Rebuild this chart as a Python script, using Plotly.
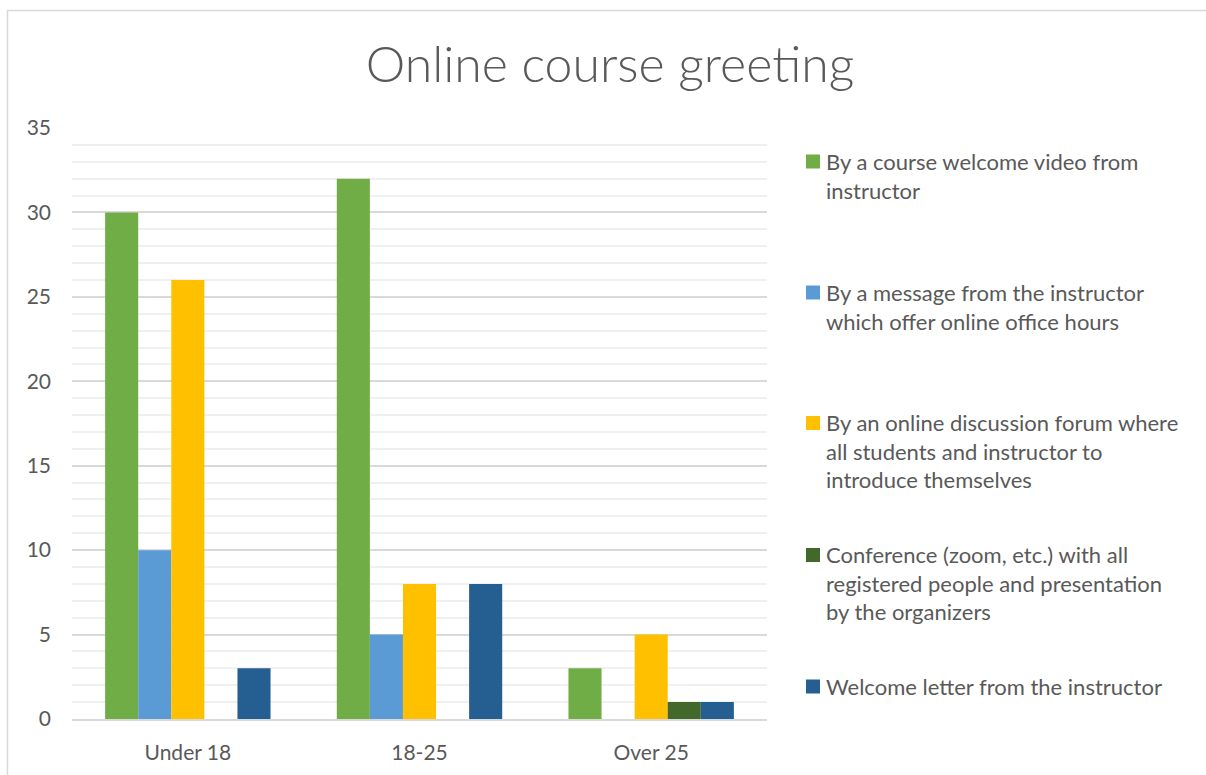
import plotly.graph_objects as go

# Survey answers: how students prefer to be greeted in an online course
categories = ["Under 18", "18-25", "Over 25"]

series_names = [
    "By a course welcome video from instructor",
    "By a message from the instructor which offer online office hours",
    "By an online discussion forum where all students and instructor to introduce themselves",
    "Conference (zoom, etc.) with all registered people and presentation by the organizers",
    "Welcome letter from the instructor",
]
legend_lines = [
    ["By a course welcome video from", "instructor"],
    ["By a message from the instructor", "which offer online office hours"],
    ["By an online discussion forum where", "all students and instructor to", "introduce themselves"],
    ["Conference (zoom, etc.) with all", "registered people and presentation", "by the organizers"],
    ["Welcome letter from the instructor"],
]

welcome_video = [30, 32, 3]
instructor_message = [10, 5, 0]
discussion_forum = [26, 8, 5]
conference = [0, 0, 1]
welcome_letter = [3, 8, 1]

series_values = [welcome_video, instructor_message, discussion_forum, conference, welcome_letter]
colors = ["#70AD47", "#5B9BD5", "#FFC000", "#43682B", "#255E91"]

y_ticks = [0, 5, 10, 15, 20, 25, 30, 35]

W, H = 1206, 775
L, R, T, B = 72, 767, 128, 719  # plot area in pixels
FONT = "Lato, Liberation Sans, sans-serif"
TEXT = "#595959"


def px_x(px):
    return (px - L) / (R - L)


def px_y(py):
    return (B - py) / (B - T)


fig = go.Figure()
for name, vals, col in zip(series_names, series_values, colors):
    fig.add_trace(go.Bar(
        name=name, x=categories, y=vals, marker=dict(color=col, line=dict(width=0)),
        showlegend=False,
    ))

# Legend drawn as squares and wrapped text on the right
shapes = []
annotations = []
first_line_y = [160, 291, 421.5, 553.5, 685]
line_h = 28.6
for lines, col, cy in zip(legend_lines, colors, first_line_y):
    shapes.append(dict(
        type="rect", xref="paper", yref="paper",
        x0=px_x(806), x1=px_x(820), y0=px_y(cy + 8.5), y1=px_y(cy - 5.5),
        fillcolor=col, line=dict(width=0),
    ))
    annotations.append(dict(
        xref="paper", yref="paper", x=px_x(824), y=px_y(cy - line_h / 2),
        xanchor="left", yanchor="top", align="left", showarrow=False,
        text="<br>".join(lines), font=dict(family=FONT, size=22, color=TEXT),
    ))

# Chart border
shapes.append(dict(
    type="rect", xref="paper", yref="paper", layer="below",
    x0=px_x(7.5), x1=px_x(1230), y0=px_y(800), y1=px_y(10.5),
    line=dict(color="#D9D9D9", width=1.5), fillcolor="rgba(0,0,0,0)",
))

fig.update_layout(
    width=W, height=H,
    margin=dict(l=L, r=W - R, t=T, b=H - B, autoexpand=False),
    paper_bgcolor="white", plot_bgcolor="white",
    barmode="group", bargap=0.286, bargroupgap=0,
    title=dict(
        text="Online course greeting", x=610 / W, xanchor="center",
        yref="container", y=1 - 64 / H, yanchor="middle",
        font=dict(family=FONT, size=50, color=TEXT, weight=300),
    ),
    font=dict(family=FONT, color=TEXT),
    shapes=shapes, annotations=annotations,
)
fig.update_yaxes(
    range=[0, 35], tickvals=y_ticks, showgrid=True, gridcolor="#D9D9D9", gridwidth=1.5,
    minor=dict(dtick=1, showgrid=True, gridcolor="#F0F0F0", gridwidth=1.5),
    zeroline=False, showline=False, ticks="", automargin=False,
    tickfont=dict(family=FONT, size=21, color=TEXT), ticklabelstandoff=20,
)
fig.update_xaxes(
    showline=True, linecolor="#D9D9D9", linewidth=2, ticks="", automargin=False,
    tickfont=dict(family=FONT, size=21, color=TEXT), ticklabelstandoff=14,
)

fig.write_html("out.html")
